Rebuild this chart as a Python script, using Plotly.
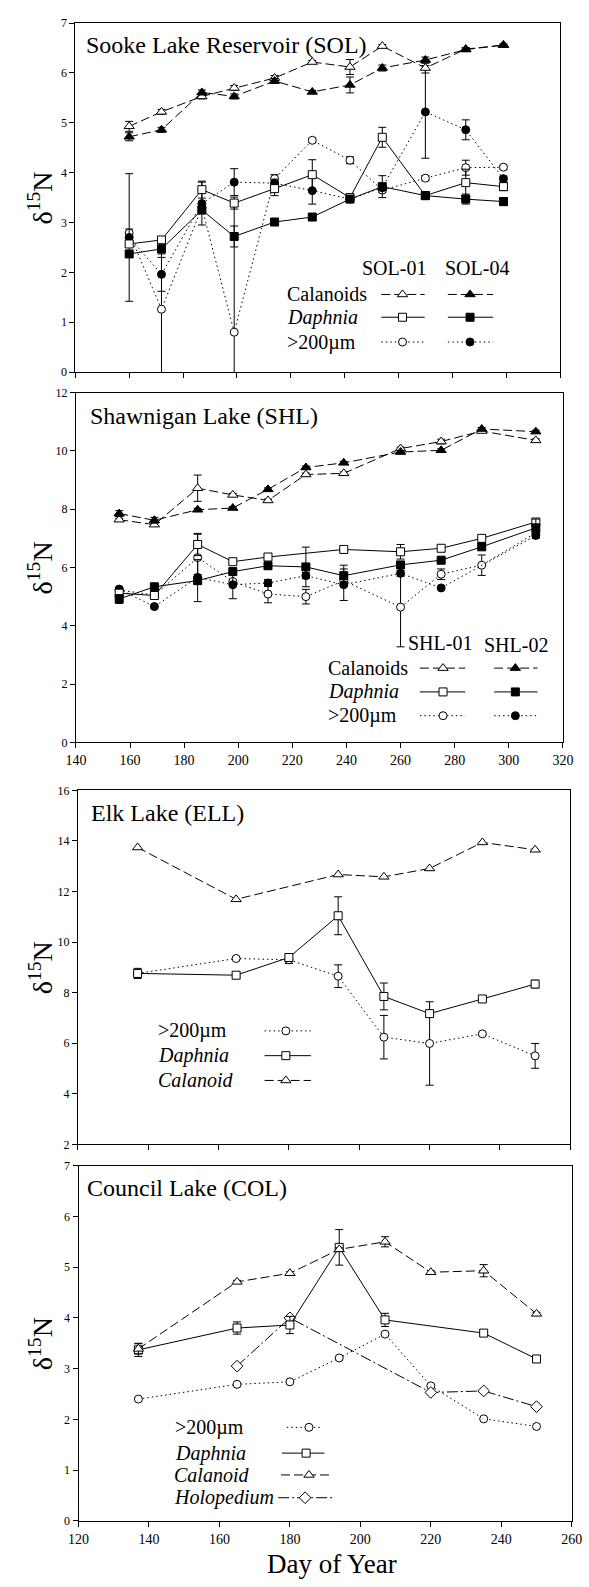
import plotly.graph_objects as go

# ---------------- DATA ----------------
sol_days = [160, 172, 187, 199, 214, 228, 242, 254, 270, 285, 299]
sol01_cal = [4.93, 5.22, 5.53, 5.70, 5.90, 6.22, 6.12, 6.54, 6.10, 6.48, 6.56]
sol01_cal_err = [0.10, 0.05, 0.05, 0.05, 0.05, 0.03, 0.15, 0.03, 0.10, 0.03, 0.02]
sol04_cal = [4.72, 4.86, 5.61, 5.53, 5.84, 5.62, 5.76, 6.10, 6.26, 6.47, 6.56]
sol04_cal_err = [0.08, 0.05, 0.05, 0.05, 0.05, 0.03, 0.16, 0.06, 0.06, 0.03, 0.02]
sol01_daph = [2.57, 2.65, 3.66, 3.39, 3.68, 3.96, 3.50, 4.71, 3.54, 3.80, 3.72]
sol01_daph_err = [0.05, 0.05, 0.17, 0.12, 0.14, 0.30, 0.05, 0.20, 0.05, 0.27, 0.08]
sol04_daph = [2.37, 2.47, 3.25, 2.72, 3.01, 3.11, 3.47, 3.72, 3.54, 3.47, 3.42]
sol04_daph_err = [0.06, 0.10, 0.05, 0.21, 0.05, 0.04, 0.04, 0.22, 0.04, 0.10, 0.08]
sol01_big = [2.79, 1.26, 3.30, 0.80, 3.88, 4.65, 4.25, 3.65, 3.89, 4.10, 4.11]
sol01_big_err = [0.08, 1.35, 0.05, 2.65, 0.08, 0.04, 0.07, 0.05, 0.05, 0.15, 0.04]
sol04_big = [2.70, 1.96, 3.38, 3.81, 3.79, 3.64, 3.47, 3.70, 5.22, 4.86, 3.88]
sol04_big_err = [1.28, 0.34, 0.43, 0.27, 0.08, 0.27, 0.04, 0.05, 0.93, 0.20, 0.05]

shl_days = [156, 169, 185, 198, 211, 225, 239, 260, 275, 290, 310]
shl01_cal = [7.64, 7.47, 8.72, 8.49, 8.30, 9.19, 9.23, 10.08, 10.32, 10.68, 10.36]
shl01_cal_err = [0.05, 0.05, 0.45, 0.05, 0.05, 0.05, 0.05, 0.05, 0.08, 0.05, 0.05]
shl02_cal = [7.85, 7.62, 7.98, 8.04, 8.68, 9.43, 9.59, 9.96, 10.02, 10.75, 10.66]
shl02_cal_err = [0.10, 0.10, 0.05, 0.05, 0.05, 0.05, 0.05, 0.05, 0.05, 0.05, 0.05]
shl01_daph = [5.12, 5.04, 6.79, 6.20, 6.36, None, 6.62, 6.54, 6.66, 7.00, 7.56]
shl01_daph_err = [0.10, 0.05, 0.38, 0.05, 0.05, 0, 0.05, 0.25, 0.05, 0.05, 0.12]
shl02_daph = [4.92, 5.34, 5.55, 5.86, 6.06, 6.02, 5.72, 6.09, 6.25, 6.71, 7.36]
shl02_daph_err = [0.15, 0.08, 0.72, 0.05, 0.05, 0.68, 0.36, 0.05, 0.10, 0.10, 0.30]
shl01_big = [5.23, 5.05, 6.34, 5.52, 5.09, 5.00, 5.55, 4.64, 5.77, 6.08, 7.19]
shl01_big_err = [0.05, 0.05, 0.80, 0.05, 0.30, 0.25, 0.10, 1.36, 0.18, 0.35, 0.10]
shl02_big = [5.26, 4.66, 5.66, 5.41, 5.47, 5.72, 5.41, 5.80, 5.30, None, 7.10]
shl02_big_err = [0.05, 0.05, 0.10, 0.48, 0.12, 0.10, 0.54, 0.10, 0.05, 0, 0.10]

ell_days = [137, 165, 180, 194, 207, 220, 235, 250]
ell_cal = [13.74, 11.69, None, 12.67, 12.58, 12.91, 13.94, 13.65]
ell_daph = [8.76, 8.69, 9.39, 11.04, 7.85, 7.17, 7.75, 8.34]
ell_daph_err = [0.20, 0.05, 0.15, 0.75, 0.53, 0.10, 0.12, 0.15]
ell_big = [8.76, 9.35, 9.30, 8.65, 6.24, 5.99, 6.37, 5.50]
ell_big_err = [0.10, 0.05, 0.15, 0.45, 0.86, 1.65, 0.05, 0.49]

col_days = [137, 165, 180, 194, 207, 220, 235, 250]
col_cal = [3.39, 4.71, 4.88, 5.35, 5.50, 4.90, 4.93, 4.08]
col_cal_err = [0.10, 0.03, 0.03, 0.03, 0.10, 0.03, 0.12, 0.03]
col_daph = [3.37, 3.80, 3.86, 5.39, 3.96, None, 3.70, 3.19]
col_daph_err = [0.13, 0.12, 0.17, 0.35, 0.13, 0, 0.04, 0.04]
col_big = [2.40, 2.69, 2.74, 3.21, 3.68, 2.66, 2.01, 1.86]
col_holo = [None, 3.05, 4.00, None, None, 2.53, 2.56, 2.25]

panel_titles = ["Sooke Lake Reservoir (SOL)", "Shawnigan Lake (SHL)", "Elk Lake (ELL)", "Council Lake (COL)"]

# ---------------- LAYOUT GEOMETRY (pixels) ----------------
W, H = 589, 1587
FONT = "Liberation Serif"
boxes = {  # left, right, top, bottom
    1: (66.7, 569.3, 16.3, 368.3),
    2: (67.3, 572.3, 389.0, 742.0),
    3: (69.3, 580.0, 790.3, 1147.5),
    4: (70.0, 581.5, 1169.0, 1527.3),
}

DASH = {"cal": "9px,4px", "daph": "solid", "big": "1.5px,3px", "holo": "11px,3px,2px,3px"}
SYM = {"cal": ("triangle-up", 9), "daph": ("square", 8), "big": ("circle", 8), "holo": ("diamond", 9)}


def mk(kind, filled):
    s, sz = SYM[kind]
    return dict(symbol=s, size=sz, color="black" if filled else "white",
                line=dict(color="black", width=1))


fig = go.Figure()


def series(p, x, y, err, kind, filled):
    xa = "x" if p == 1 else f"x{p}"
    ya = "y" if p == 1 else f"y{p}"
    tr = dict(x=x, y=y, mode="lines+markers", xaxis=xa, yaxis=ya, connectgaps=True,
              line=dict(color="black", width=1, dash=DASH[kind]), marker=mk(kind, filled),
              showlegend=False, hoverinfo="x+y")
    if err is not None:
        tr["error_y"] = dict(type="data", array=err, symmetric=True, color="black",
                             thickness=1, width=4)
    fig.add_trace(go.Scatter(**tr))


# Panel 1
series(1, sol_days, sol01_big, sol01_big_err, "big", False)
series(1, sol_days, sol04_big, sol04_big_err, "big", True)
series(1, sol_days, sol01_daph, sol01_daph_err, "daph", False)
series(1, sol_days, sol04_daph, sol04_daph_err, "daph", True)
series(1, sol_days, sol01_cal, sol01_cal_err, "cal", False)
series(1, sol_days, sol04_cal, sol04_cal_err, "cal", True)
# Panel 2
series(2, shl_days, shl01_big, shl01_big_err, "big", False)
series(2, shl_days, shl02_big, shl02_big_err, "big", True)
series(2, shl_days, shl01_daph, shl01_daph_err, "daph", False)
series(2, shl_days, shl02_daph, shl02_daph_err, "daph", True)
series(2, shl_days, shl01_cal, shl01_cal_err, "cal", False)
series(2, shl_days, shl02_cal, shl02_cal_err, "cal", True)
# Panel 3
series(3, ell_days, ell_big, ell_big_err, "big", False)
series(3, ell_days, ell_daph, ell_daph_err, "daph", False)
series(3, ell_days, ell_cal, None, "cal", False)
# Panel 4
series(4, col_days, col_big, None, "big", False)
series(4, col_days, col_holo, None, "holo", False)
series(4, col_days, col_daph, col_daph_err, "daph", False)
series(4, col_days, col_cal, col_cal_err, "cal", False)

# ---------------- legend samples on helper axes ----------------
def aux(p, px, py):
    l, r, t, b = boxes[p]
    return (px - l) / (r - l), (b - py) / (b - t)


def sample(p, x0, xm, x1, py, kind, filled):
    xa, ya = f"x{p + 4}", f"y{p + 4}"
    a0, yy = aux(p, x0, py)
    a1, _ = aux(p, x1, py)
    am, _ = aux(p, xm, py)
    fig.add_trace(go.Scatter(x=[a0, a1], y=[yy, yy], mode="lines", xaxis=xa, yaxis=ya,
                             line=dict(color="black", width=1, dash=DASH[kind]),
                             showlegend=False, hoverinfo="skip"))
    fig.add_trace(go.Scatter(x=[am], y=[yy], mode="markers", xaxis=xa, yaxis=ya,
                             marker=mk(kind, filled), showlegend=False, hoverinfo="skip"))


annotations = []


def text(px, py, s, size, anchor="left", italic=False, angle=0):
    annotations.append(dict(x=px / W, y=1 - py / H, xref="paper", yref="paper", text=s,
                            showarrow=False, xanchor=anchor, yanchor="middle", textangle=angle,
                            borderpad=0,
                            font=dict(family=FONT, size=size, color="black",
                                      style="italic" if italic else "normal")))


LEG = 20
# Panel 1 legend
text(397, 263, "SOL-01", LEG, "center")
text(483, 263, "SOL-04", LEG, "center")
rows1 = [("Calanoids", "cal", 290, False), ("Daphnia", "daph", 313, True), (">200µm", "big", 338, False)]
for lab, kind, py, it in rows1:
    text(285, py, lab, LEG, "left", it)
    sample(1, 384, 406, 429, py, kind, False)
    sample(1, 453, 476, 500, py, kind, True)
# Panel 2 legend
text(445, 642, "SHL-01", LEG, "center")
text(524, 644, "SHL-02", LEG, "center")
rows2 = [("Calanoids", "cal", 667, False), ("Daphnia", "daph", 691, True), (">200µm", "big", 715, False)]
for lab, kind, py, it in rows2:
    text(328, py, lab, LEG, "left", it)
    sample(2, 424, 448, 471, py, kind, False)
    sample(2, 501, 523, 546, py, kind, True)
# Panel 3 legend
rows3 = [(">200µm", "big", 1033, False), ("Daphnia", "daph", 1058, True), ("Calanoid", "cal", 1083, True)]
for lab, kind, py, it in rows3:
    text(151, py, lab, LEG, "left", it)
    sample(3, 263, 285, 311, py, kind, False)
# Panel 4 legend
rows4 = [(">200µm", "big", 1433, False, 169, 286, 309, 323),
         ("Daphnia", "daph", 1459, True, 169, 281, 306, 325),
         ("Calanoid", "cal", 1481, True, 168, 280, 309, 330),
         ("Holopedium", "holo", 1504, True, 168, 277, 305, 333)]
for lab, kind, py, it, lx, x0, xm, x1 in rows4:
    text(lx, py, lab, LEG, "left", it)
    sample(4, x0, xm, x1, py, kind, False)

# titles
TS = 24
text(77, 38, panel_titles[0], TS)
text(81, 413, panel_titles[1], TS)
text(82, 813, panel_titles[2], TS)
text(78, 1192, panel_titles[3], TS)

# y titles
for p in range(1, 5):
    l, r, t, b = boxes[p]
    text(31, (t + b) / 2, "δ<sup>15</sup>N", 28, "center", angle=-90)
text(333, 1571, "Day of Year", 27, "center")

# ---------------- axes ----------------
common = dict(showline=True, linecolor="black", linewidth=1, mirror=True, ticks="outside",
              ticklen=5, tickcolor="black", tickwidth=1, showgrid=False, zeroline=False,
              tickfont=dict(family=FONT, size=12, color="black"))
xranges = {1: [140, 320], 2: [140, 320], 3: [120, 260], 4: [120, 260]}
xlabels = {1: False, 2: True, 3: False, 4: True}
yranges = {1: [0, 7], 2: [0, 12], 3: [2, 16], 4: [0, 7]}
ydt = {1: 1, 2: 2, 3: 2, 4: 1}

lay = dict(width=W, height=H, margin=dict(l=0, r=0, t=0, b=0), paper_bgcolor="white",
           plot_bgcolor="white", showlegend=False, annotations=annotations,
           font=dict(family=FONT, color="black"))
for p in range(1, 5):
    l, r, t, b = boxes[p]
    xd = [l / W, r / W]
    yd = [1 - b / H, 1 - t / H]
    xk = "xaxis" if p == 1 else f"xaxis{p}"
    yk = "yaxis" if p == 1 else f"yaxis{p}"
    xname = "x" if p == 1 else f"x{p}"
    yname = "y" if p == 1 else f"y{p}"
    xa = dict(common, domain=xd, range=xranges[p], dtick=20, tick0=0, anchor=yname,
              showticklabels=xlabels[p])
    xa["tickfont"] = dict(family=FONT, size=14, color="black")
    lay[xk] = xa
    lay[yk] = dict(common, domain=yd, range=yranges[p], dtick=ydt[p], tick0=0, anchor=xname)
    lay[f"xaxis{p + 4}"] = dict(domain=xd, range=[0, 1], visible=False, anchor=f"y{p + 4}",
                                overlaying=xname)
    lay[f"yaxis{p + 4}"] = dict(domain=yd, range=[0, 1], visible=False, anchor=f"x{p + 4}",
                                overlaying=yname)

fig.update_layout(**lay)
fig.write_html("out.html")
